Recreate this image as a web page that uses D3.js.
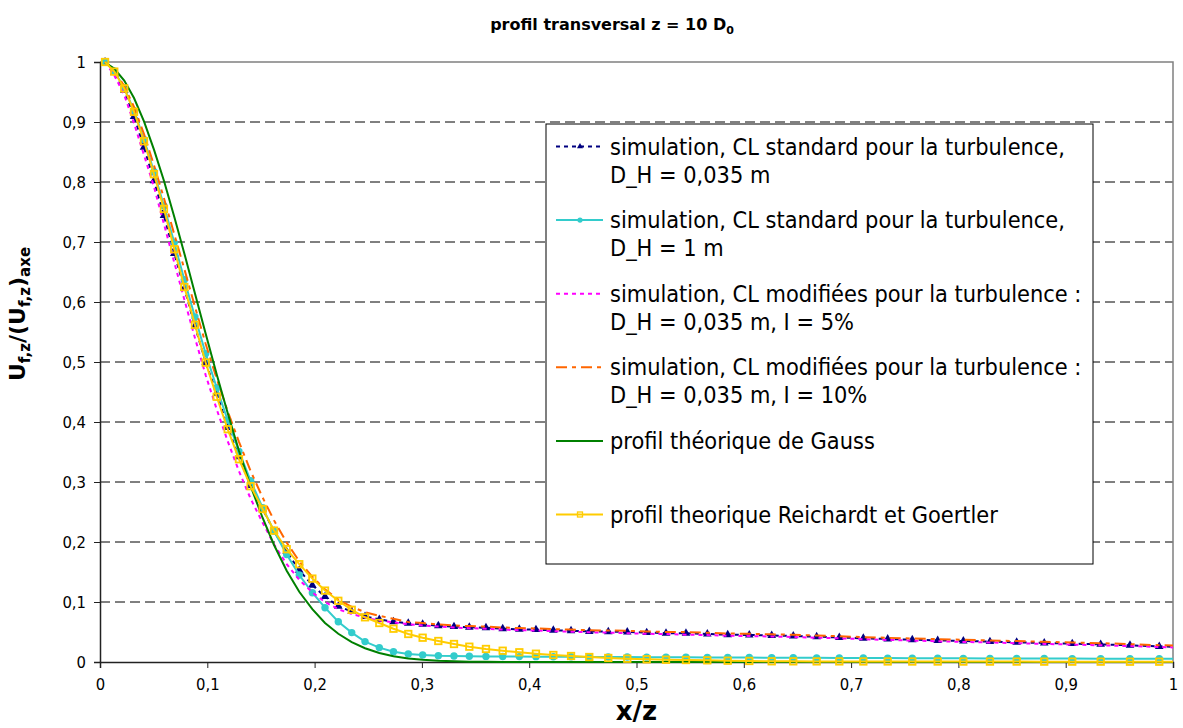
<!DOCTYPE html>
<html>
<head>
<meta charset="utf-8">
<script src="https://cdn.jsdelivr.net/npm/d3@7"></script>
<style>
  body { margin: 0; background: #fff; }
  svg { display: block; }
</style>
</head>
<body>
<div id="chart"></div>
<script>
// x/z positions of the mesh points (shared by all curves)
var xs = [0.0047, 0.0133, 0.0226, 0.0317, 0.0410, 0.0503, 0.0596, 0.0692, 0.0786, 0.0885,
          0.0985, 0.1088, 0.1190, 0.1295, 0.1404, 0.1516, 0.1622, 0.1740, 0.1857, 0.1979,
          0.2097, 0.2221, 0.2346, 0.2470, 0.2603, 0.2735, 0.2873, 0.3007, 0.3153, 0.3299,
          0.3442, 0.3597, 0.3753, 0.3908, 0.4063, 0.4225, 0.4390, 0.4560, 0.4737, 0.4914,
          0.5095, 0.5275, 0.5461, 0.5660, 0.5850, 0.6051, 0.6260, 0.6461, 0.6679, 0.6890,
          0.7114, 0.7341, 0.7570, 0.7807, 0.8046, 0.8294, 0.8543, 0.8800, 0.9061, 0.9326,
          0.9599, 0.9872, 1.0149];

// simulation, CL standard, D_H = 0,035 m
var sim035 = [1.000, 0.983, 0.953, 0.909, 0.858, 0.802, 0.744, 0.681, 0.623, 0.560,
              0.499, 0.448, 0.391, 0.342, 0.294, 0.255, 0.218, 0.184, 0.153, 0.128,
              0.109, 0.093, 0.084, 0.076, 0.071, 0.067, 0.0645, 0.0628, 0.0605, 0.059,
              0.0578, 0.057, 0.0555, 0.0545, 0.054, 0.0528, 0.052, 0.051, 0.0505, 0.050,
              0.049, 0.048, 0.0478, 0.0467, 0.0455, 0.045, 0.0442, 0.0433, 0.0422, 0.041,
              0.0395, 0.0383, 0.0372, 0.036, 0.035, 0.034, 0.0328, 0.0317, 0.0306, 0.0294,
              0.0278, 0.026, 0.0245];

// simulation, CL standard, D_H = 1 m
var sim1m = [1.000, 0.985, 0.957, 0.919, 0.871, 0.817, 0.760, 0.699, 0.637, 0.575,
             0.514, 0.457, 0.403, 0.351, 0.302, 0.257, 0.218, 0.179, 0.145, 0.1155,
             0.0905, 0.067, 0.049, 0.034, 0.024, 0.017, 0.0133, 0.0117, 0.0105, 0.0100,
             0.0095, 0.0093, 0.0092, 0.0090, 0.0089, 0.0088, 0.0087, 0.0085, 0.0084, 0.0083,
             0.0081, 0.0080, 0.0078, 0.0077, 0.0075, 0.0074, 0.0072, 0.0071, 0.0069, 0.0068,
             0.0066, 0.0065, 0.0063, 0.0062, 0.0061, 0.0060, 0.0059, 0.0058, 0.0057, 0.0056,
             0.0055, 0.0054, 0.0053];

// simulation, CL modifiées, I = 5%
var mod5 = [1.000, 0.978, 0.945, 0.898, 0.845, 0.792, 0.730, 0.666, 0.604, 0.540,
            0.478, 0.421, 0.368, 0.318, 0.272, 0.232, 0.196, 0.163, 0.137, 0.116,
            0.100, 0.088, 0.080, 0.074, 0.069, 0.066, 0.063, 0.061, 0.059, 0.0575,
            0.0563, 0.0555, 0.054, 0.053, 0.0525, 0.0513, 0.0505, 0.0495, 0.049, 0.048,
            0.047, 0.0465, 0.0455, 0.0448, 0.0437, 0.0432, 0.0425, 0.0416, 0.0405, 0.0395,
            0.038, 0.0368, 0.0357, 0.0345, 0.0335, 0.0325, 0.0313, 0.0302, 0.029, 0.0278,
            0.0265, 0.025, 0.0235];

// simulation, CL modifiées, I = 10%
var mod10 = [1.000, 0.986, 0.960, 0.925, 0.880, 0.828, 0.773, 0.713, 0.655, 0.592,
             0.530, 0.472, 0.418, 0.367, 0.318, 0.274, 0.236, 0.199, 0.168, 0.142,
             0.121, 0.104, 0.092, 0.083, 0.077, 0.072, 0.0665, 0.0648, 0.0625, 0.061,
             0.0598, 0.059, 0.0575, 0.0565, 0.056, 0.0548, 0.054, 0.053, 0.0525, 0.052,
             0.051, 0.050, 0.0498, 0.0487, 0.0475, 0.047, 0.0462, 0.0453, 0.0442, 0.043,
             0.0415, 0.0403, 0.0392, 0.038, 0.037, 0.036, 0.0348, 0.0337, 0.0326, 0.0314,
             0.0298, 0.028, 0.0265];

// profil théorique de Gauss
var gauss = [0.999, 0.989, 0.969, 0.940, 0.901, 0.854, 0.802, 0.742, 0.681, 0.614,
             0.547, 0.479, 0.415, 0.352, 0.293, 0.240, 0.195, 0.152, 0.117, 0.088,
             0.065, 0.047, 0.033, 0.023, 0.015, 0.0096, 0.0059, 0.0036, 0.0021, 0.0012,
             0.0006, 0.0003, 0.0001, 0, 0, 0, 0, 0, 0, 0,
             0, 0, 0, 0, 0, 0, 0, 0, 0, 0,
             0, 0, 0, 0, 0, 0, 0, 0, 0, 0,
             0, 0, 0];

// profil théorique Reichardt et Goertler
var reichardt = [1.000, 0.984, 0.956, 0.917, 0.868, 0.813, 0.755, 0.688, 0.625, 0.562,
                 0.499, 0.442, 0.388, 0.338, 0.293, 0.255, 0.219, 0.188, 0.163, 0.139,
                 0.119, 0.102, 0.087, 0.0745, 0.065, 0.0555, 0.0467, 0.0405, 0.035, 0.030,
                 0.0255, 0.0217, 0.0188, 0.0162, 0.0138, 0.0117, 0.0100, 0.0083, 0.0067, 0.0055,
                 0.0045, 0.0038, 0.0033, 0.0028, 0.0022, 0.0017, 0.0012, 0.0011, 0.0010, 0.0010,
                 0.0009, 0.0009, 0.0008, 0.0008, 0.0007, 0.0007, 0.0007, 0.0006, 0.0006, 0.0006,
                 0.0005, 0.0005, 0.0005];

var ticks = [0, 0.1, 0.2, 0.3, 0.4, 0.5, 0.6, 0.7, 0.8, 0.9, 1];
var tickLabels = ['0', '0,1', '0,2', '0,3', '0,4', '0,5', '0,6', '0,7', '0,8', '0,9', '1'];

var legendLines = [
  ['simulation, CL standard pour la turbulence,', 'D_H = 0,035 m'],
  ['simulation, CL standard pour la turbulence,', 'D_H = 1 m'],
  ['simulation, CL modifiées pour la turbulence :', 'D_H = 0,035 m, I = 5%'],
  ['simulation, CL modifiées pour la turbulence :', 'D_H = 0,035 m, I = 10%'],
  ['profil théorique de Gauss'],
  ['profil theorique Reichardt et Goertler']
];

var series = [
  {values: sim035, color: '#000080', dash: '4,4', marker: 'triangle'},
  {values: sim1m, color: '#33CCCC', dash: null, marker: 'circle'},
  {values: mod5, color: '#FF00FF', dash: '4,4', marker: null},
  {values: mod10, color: '#FF6600', dash: '11,5,4,5', marker: null},
  {values: gauss, color: '#008000', dash: null, marker: null},
  {values: reichardt, color: '#FFCC00', dash: null, marker: 'square'}
];

var W = 1183, H = 728;
var font = "'DejaVu Sans Condensed', 'DejaVu Sans', sans-serif";

var svg = d3.select('#chart').append('svg')
    .attr('width', W)
    .attr('height', H);

var x = d3.scaleLinear().domain([0, 1]).range([100, 1173]);
var y = d3.scaleLinear().domain([0, 1]).range([662, 62]);

// title
var title = svg.append('text')
    .attr('x', 612).attr('y', 30)
    .attr('text-anchor', 'middle')
    .style('font-family', "'DejaVu Sans', sans-serif")
    .style('font-weight', 'bold')
    .style('font-size', '16px')
    .text('profil transversal z = 10 D');
title.append('tspan').attr('dy', 4).style('font-size', '11px').text('0');

// gridlines
svg.append('g').selectAll('line')
    .data(ticks.slice(1, -1))
    .enter().append('line')
    .attr('x1', x(0)).attr('x2', x(1))
    .attr('y1', d => y(d)).attr('y2', d => y(d))
    .attr('stroke', '#000')
    .attr('stroke-width', 1)
    .attr('stroke-dasharray', '10,5');

// plot border top and right (gray)
svg.append('path')
    .attr('d', `M${x(0)},${y(1)}H${x(1)}V${y(0)}`)
    .attr('fill', 'none')
    .attr('stroke', '#808080')
    .attr('stroke-width', 1.5);

// axes
var yAxis = svg.append('g')
    .attr('transform', `translate(${x(0)},0)`)
    .call(d3.axisLeft(y).tickValues(ticks).tickSize(6).tickPadding(8)
        .tickFormat((d, i) => tickLabels[i]));
var xAxis = svg.append('g')
    .attr('transform', `translate(0,${y(0)})`)
    .call(d3.axisBottom(x).tickValues(ticks).tickSize(6).tickPadding(10)
        .tickFormat((d, i) => tickLabels[i]));

[yAxis, xAxis].forEach(function(ax) {
  ax.select('.domain').attr('stroke', '#222').attr('stroke-width', 1.5);
  ax.selectAll('.tick line').attr('stroke', '#222');
  ax.selectAll('text')
    .style('font-family', font)
    .style('font-size', '16.5px')
    .attr('fill', '#000');
});

// clip for curves
svg.append('clipPath').attr('id', 'plotclip')
  .append('rect')
    .attr('x', x(0)).attr('y', y(1) - 6)
    .attr('width', x(1) - x(0)).attr('height', y(0) - y(1) + 12);

var plot = svg.append('g').attr('clip-path', 'url(#plotclip)');

var line = d3.line()
    .x((d, i) => x(xs[i]))
    .y(d => y(d));

function drawMarker(g, type, color, cx, cy, small) {
  if (type === 'triangle') {
    g.append('path')
      .attr('d', d3.symbol().type(d3.symbolTriangle).size(small ? 16 : 32)())
      .attr('transform', `translate(${cx},${cy})`)
      .attr('fill', color);
  } else if (type === 'circle') {
    g.append('circle')
      .attr('cx', cx).attr('cy', cy)
      .attr('r', small ? 2.6 : 3.7)
      .attr('fill', color);
  } else if (type === 'square') {
    var s = small ? 5 : 6.5;
    g.append('rect')
      .attr('x', cx - s / 2).attr('y', cy - s / 2)
      .attr('width', s).attr('height', s)
      .attr('fill', 'none')
      .attr('stroke', color)
      .attr('stroke-width', small ? 1.3 : 1.8);
  }
}

series.forEach(function(s) {
  plot.append('path')
    .datum(s.values)
    .attr('d', line)
    .attr('fill', 'none')
    .attr('stroke', s.color)
    .attr('stroke-width', 2)
    .attr('stroke-dasharray', s.dash);
  if (s.marker) {
    var mg = plot.append('g');
    s.values.forEach(function(v, i) {
      drawMarker(mg, s.marker, s.color, x(xs[i]), y(v), false);
    });
  }
});

// legend
var legend = svg.append('g');
legend.append('rect')
    .attr('x', 546).attr('y', 124)
    .attr('width', 547).attr('height', 440)
    .attr('fill', '#fff')
    .attr('stroke', '#000')
    .attr('stroke-width', 1);

series.forEach(function(s, i) {
  var cy = 146.5 + i * 73.6;
  legend.append('line')
    .attr('x1', 556).attr('x2', 603)
    .attr('y1', cy).attr('y2', cy)
    .attr('stroke', s.color)
    .attr('stroke-width', 2)
    .attr('stroke-dasharray', s.dash);
  if (s.marker) drawMarker(legend, s.marker, s.color, 580, cy, true);
  legendLines[i].forEach(function(t, j) {
    legend.append('text')
      .attr('x', 610)
      .attr('y', cy + 8 + j * 28)
      .style('font-family', font)
      .style('font-size', '23.3px')
      .attr('fill', '#000')
      .text(t);
  });
});

// axis titles
svg.append('text')
    .attr('x', x(0.5)).attr('y', 720)
    .attr('text-anchor', 'middle')
    .style('font-family', "'DejaVu Sans', sans-serif")
    .style('font-weight', 'bold')
    .style('font-size', '26px')
    .text('x/z');

var ylab = svg.append('text')
    .attr('transform', 'translate(25,314) rotate(-90)')
    .attr('text-anchor', 'middle')
    .style('font-family', "'DejaVu Sans', sans-serif")
    .style('font-weight', 'bold')
    .style('font-size', '22px');
ylab.append('tspan').text('U');
ylab.append('tspan').attr('dy', 5).style('font-size', '15px').text('f,z');
ylab.append('tspan').attr('dy', -5).text('/(U');
ylab.append('tspan').attr('dy', 5).style('font-size', '15px').text('f,z');
ylab.append('tspan').attr('dy', -5).text(')');
ylab.append('tspan').attr('dy', 5).style('font-size', '15px').text('axe');
</script>
</body>
</html>
